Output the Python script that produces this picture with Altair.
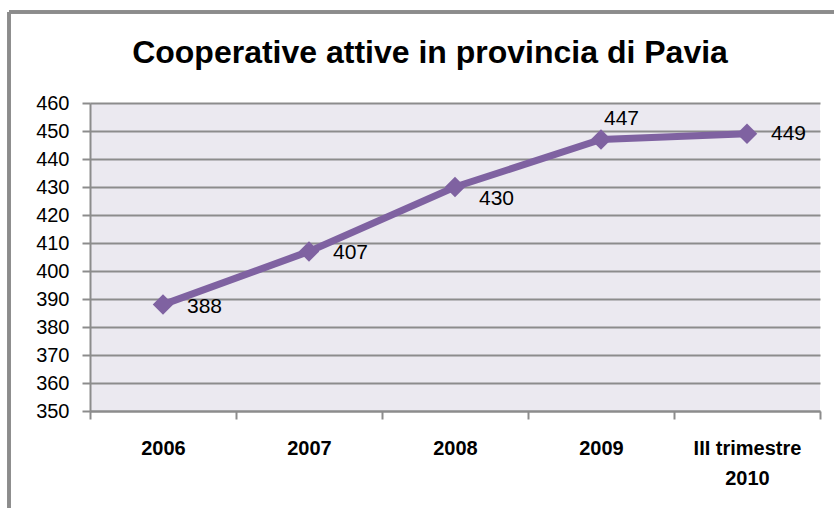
import altair as alt
import pandas as pd

categories = ["2006", "2007", "2008", "2009", "III trimestre\n2010"]
values = [388, 407, 430, 447, 449]
y_ticks = [350, 360, 370, 380, 390, 400, 410, 420, 430, 440, 450, 460]

df = pd.DataFrame({"cat": categories, "val": values})

PURPLE = "#7F62A1"
GRID = "#8C8C8C"
FONT = "Liberation Sans, Arial, Helvetica, sans-serif"

x_enc = alt.X(
    "cat:N",
    sort=categories,
    bandPosition=0.5,
    scale=alt.Scale(type="band", paddingInner=0, paddingOuter=0),
    axis=alt.Axis(
        title=None,
        labelAngle=0,
        labelExpr="split(datum.label, '\\n')",
        labelFont=FONT,
        labelFontWeight="bold",
        labelFontSize=20,
        labelColor="#000000",
        labelPadding=19,
        labelLineHeight=30,
        labelBaseline="top",
        tickSize=8,
        tickColor=GRID,
        tickWidth=2,
        tickBand="extent",
        domainColor=GRID,
        domainWidth=2,
        grid=False,
    ),
)
y_enc = alt.Y(
    "val:Q",
    scale=alt.Scale(domain=[350, 460], nice=False, zero=False),
    axis=alt.Axis(
        title=None,
        values=y_ticks,
        labelFont=FONT,
        labelFontSize=20,
        labelColor="#000000",
        labelPadding=13,
        tickSize=8,
        tickColor=GRID,
        tickWidth=2,
        domainColor=GRID,
        domainWidth=2,
        gridColor=GRID,
        gridWidth=2,
        gridOpacity=1,
    ),
)

base = alt.Chart(df).encode(x=x_enc, y=y_enc)

line = base.mark_line(color=PURPLE, strokeWidth=7)
points = base.mark_point(shape="diamond", size=420, filled=True, color=PURPLE, opacity=1)

lbl_style = dict(font=FONT, fontSize=21, color="#000000", align="left")
labels_low = base.mark_text(dx=24, dy=2, **lbl_style).transform_filter(
    alt.FieldOneOfPredicate(field="cat", oneOf=categories[:2])
).encode(text="val:Q")
labels_lower = base.mark_text(dx=24, dy=12, **lbl_style).transform_filter(
    alt.FieldEqualPredicate(field="cat", equal=categories[2])
).encode(text="val:Q")
labels_high = base.mark_text(dx=3, dy=-20, **lbl_style).transform_filter(
    alt.FieldEqualPredicate(field="cat", equal=categories[3])
).encode(text="val:Q")
labels_right = base.mark_text(dx=24, dy=0, **lbl_style).transform_filter(
    alt.FieldEqualPredicate(field="cat", equal=categories[4])
).encode(text="val:Q")

frame_left = alt.Chart(df).mark_rule(color="#8C8C8C", strokeWidth=3).encode(
    x=alt.value(-81), y=alt.value(-91), y2=alt.value(420)
)
frame_top = alt.Chart(df).mark_rule(color="#8C8C8C", strokeWidth=3).encode(
    x=alt.value(-81), x2=alt.value(760), y=alt.value(-91)
)

chart = alt.layer(
    line, points, labels_low, labels_lower, labels_high, labels_right, frame_left, frame_top
).properties(
    width=730,
    height=308,
    title=alt.TitleParams(
        "Cooperative attive in provincia di Pavia",
        font=FONT,
        fontWeight="bold",
        fontSize=32,
        color="#000000",
        anchor="middle",
        dx=-25,
        offset=0,
        dy=59,
    ),
    autosize=alt.AutoSizeParams(type="none"),
    padding={"left": 90, "top": 103, "right": 14, "bottom": 97},
    background="#FFFFFF",
).configure_view(fill="#EBE9F0", stroke=None)

chart.save("out.html", embed_options={"renderer": "svg", "actions": False})
